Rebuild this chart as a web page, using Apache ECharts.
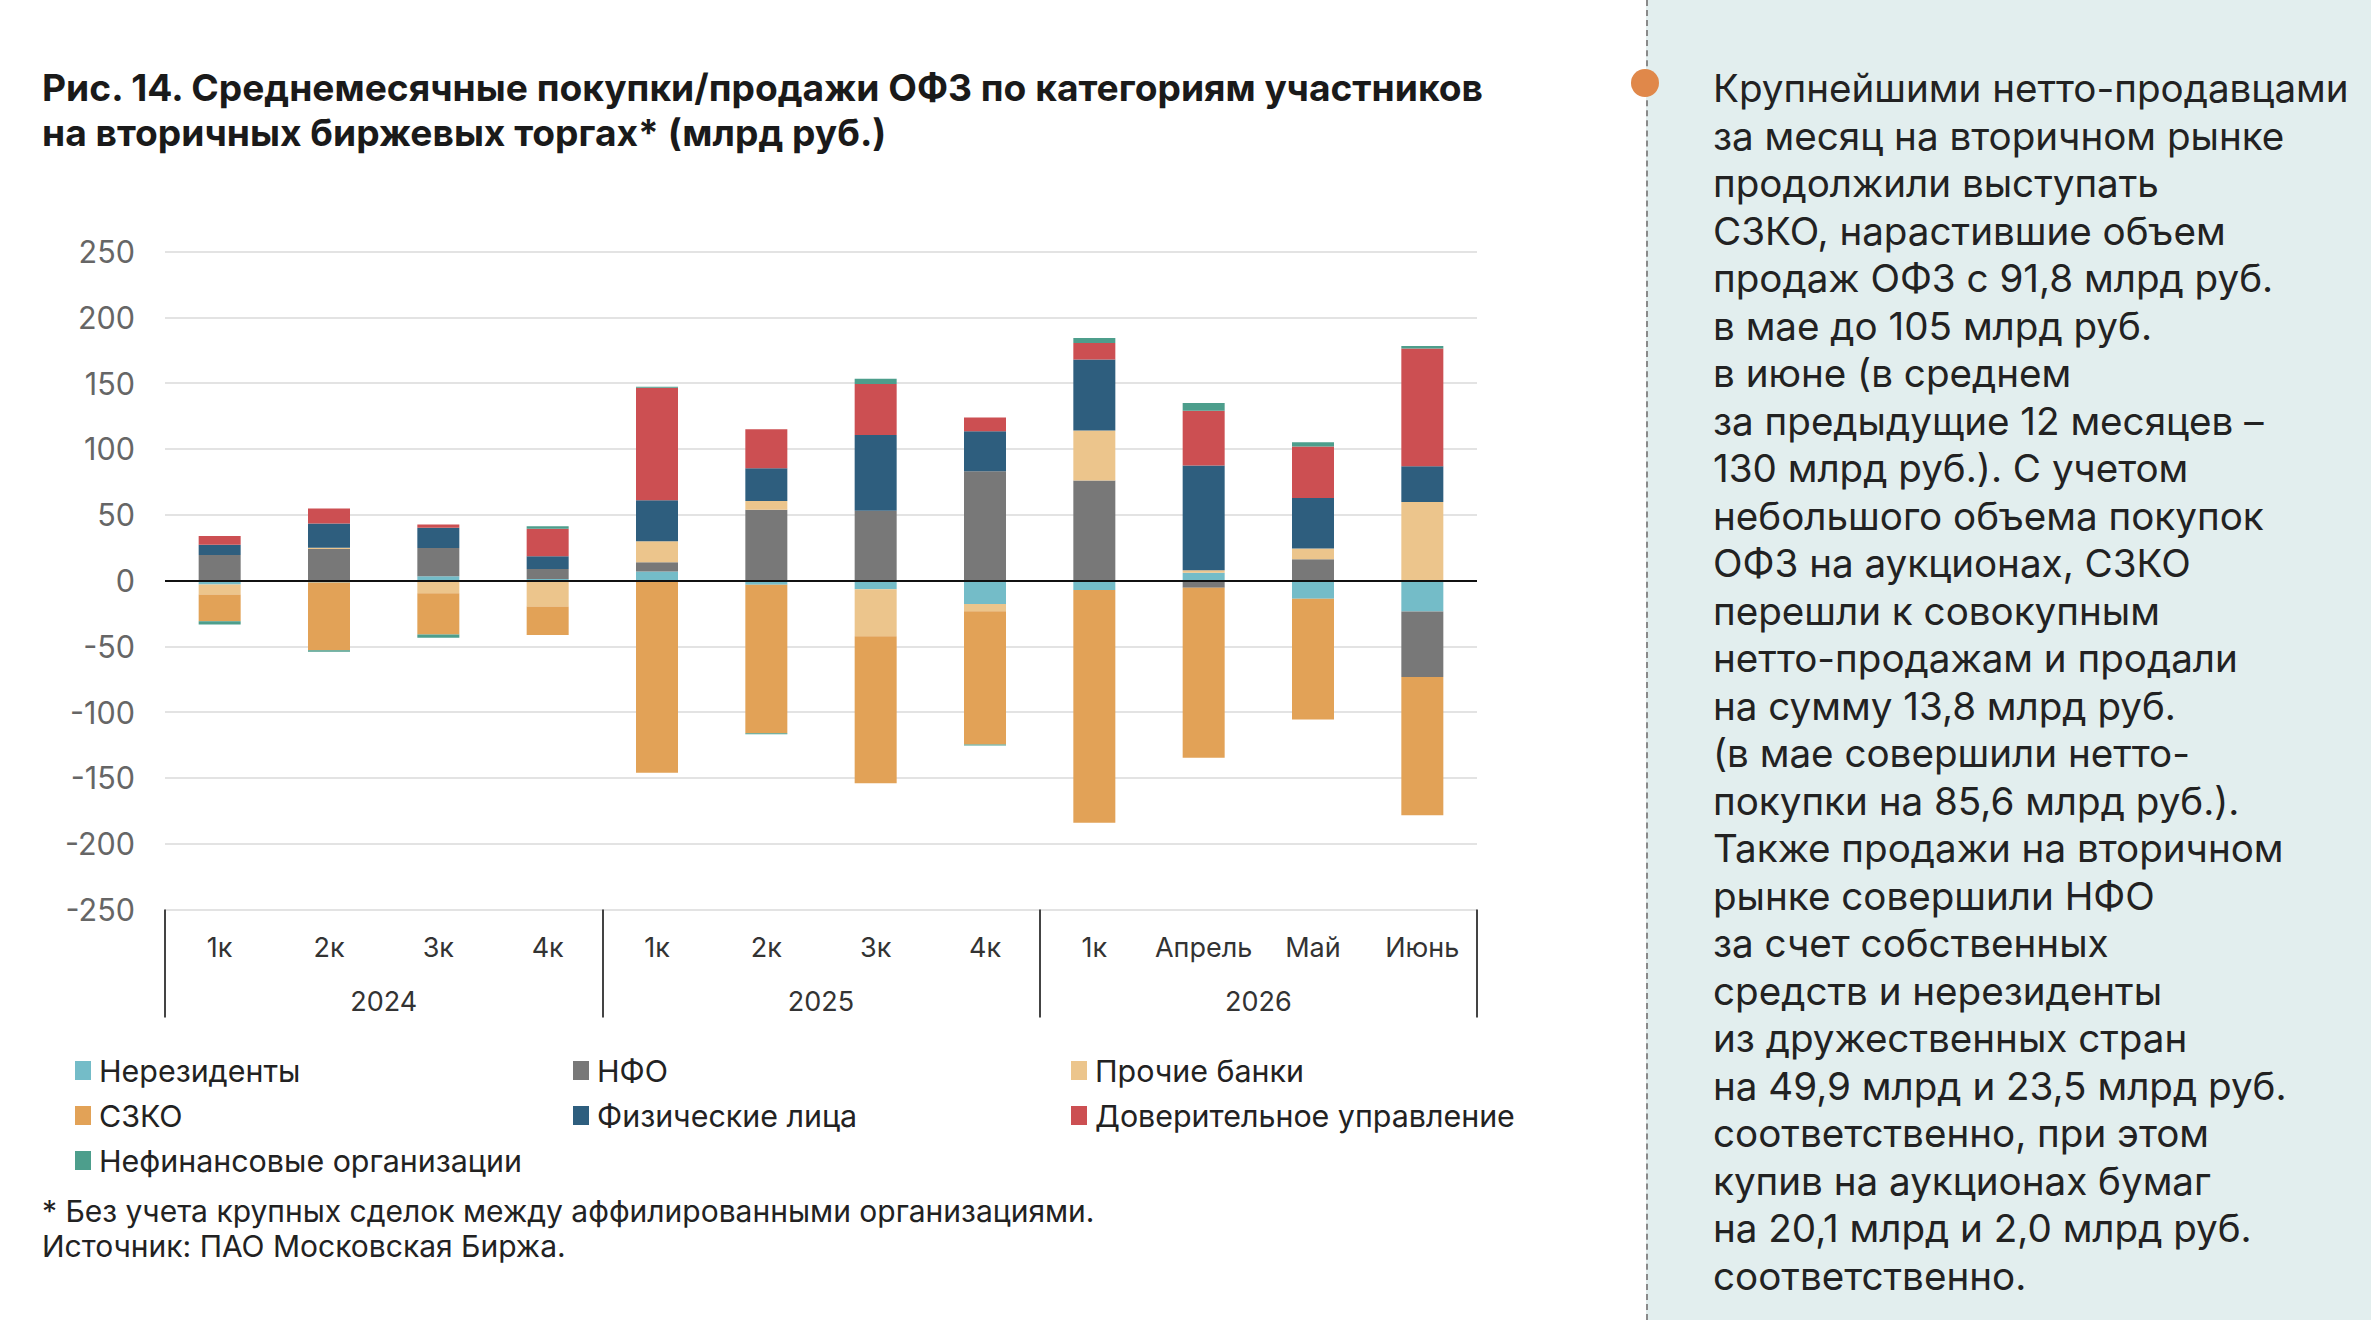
<!DOCTYPE html>
<html><head><meta charset="utf-8">
<script src="https://cdn.jsdelivr.net/npm/echarts@6/dist/echarts.min.js"></script>
<style>
html,body{margin:0;padding:0;background:#fff;}
#chart{position:absolute;left:0;top:0;width:2371px;height:1320px;}
#side{position:absolute;left:1646px;top:0;width:725px;height:1320px;background:#e2eeee;border-left:2px dashed #8a8a8a;box-sizing:border-box;}
#dot{position:absolute;left:1631px;top:69px;width:28px;height:28px;border-radius:50%;background:#e0884a;}
#sidetext{position:absolute;left:1713px;top:65px;font-family:Inter,sans-serif;font-size:38.6px;line-height:47.5px;color:#222;white-space:nowrap;}
</style></head>
<body>
<div id="chart"></div>
<div id="side"></div>
<div id="dot"></div>
<div id="sidetext">Крупнейшими нетто-продавцами<br>за месяц на вторичном рынке<br>продолжили выступать<br>СЗКО, нарастившие объем<br>продаж ОФЗ с 91,8 млрд руб.<br>в мае до 105 млрд руб.<br>в июне (в среднем<br>за предыдущие 12 месяцев –<br>130 млрд руб.). С учетом<br>небольшого объема покупок<br>ОФЗ на аукционах, СЗКО<br>перешли к совокупным<br>нетто-продажам и продали<br>на сумму 13,8 млрд руб.<br>(в мае совершили нетто-<br>покупки на 85,6 млрд руб.).<br>Также продажи на вторичном<br>рынке совершили НФО<br>за счет собственных<br>средств и нерезиденты<br>из дружественных стран<br>на 49,9 млрд и 23,5 млрд руб.<br>соответственно, при этом<br>купив на аукционах бумаг<br>на 20,1 млрд и 2,0 млрд руб.<br>соответственно.</div>
<script>
const categories = ['1к','2к','3к','4к','1к','2к','3к','4к','1к','Апрель','Май','Июнь'];
const years = ['2024','2025','2026'];

const nonResidents = [-3, -1.5, 3.3, 1.2, 6.9, -3.3, -6.6, -17.9, -7.3, 5.8, -13.9, -23.5];
const nfo          = [19.3, 24, 21.4, 7.6, 6.9, 53.8, 53, 83, 76, -5.6, 16.2, -49.9];
const otherBanks   = [-7.6, 0.8, -9.7, -19.8, 16, 6.6, -35.7, -5.4, 37.9, 2, 8.1, 59.6];
const szko         = [-20.4, -51.5, -31.3, -21.6, -146, -112.8, -111.7, -101.3, -176.8, -129, -91.8, -105];
const individuals  = [7.9, 18.5, 15.3, 9.7, 31.2, 24.9, 57.6, 30.5, 54, 79.5, 38.4, 27.3];
const trust        = [6.6, 11.5, 2.5, 20.9, 85.5, 29.7, 38.8, 10.4, 12.6, 41.7, 39.1, 89.4];
const nonFinancial = [-2.5, -1.2, -2.5, 1.8, 0.8, -0.8, 4, -0.8, 3.8, 5.8, 3.3, 1.8];

const seriesNames = ['Нерезиденты','НФО','Прочие банки','СЗКО','Физические лица','Доверительное управление','Нефинансовые организации'];
const seriesData = [nonResidents, nfo, otherBanks, szko, individuals, trust, nonFinancial];
const seriesColors = ['#74bcc8','#787878','#ecc58c','#e2a257','#2e5e7e','#cc4f52','#4d9e8c'];

const FONT = 'Inter';

const series = seriesNames.map((name, i) => {
  const s = {
    name: name, type: 'bar', stack: 'total', barWidth: 42,
    data: seriesData[i],
    itemStyle: { color: seriesColors[i] },
    emphasis: { disabled: true },
    xAxisIndex: 0
  };
  if (i === 0) {
    s.markLine = {
      silent: true, symbol: 'none', animation: false,
      label: { show: false },
      lineStyle: { color: '#111', type: 'solid', width: 2 },
      data: [{ yAxis: 0 }],
      z: 10
    };
  }
  return s;
});

const legendBase = {
  orient: 'vertical', icon: 'rect', itemWidth: 16, itemHeight: 19, itemGap: 0, padding: 0,
  textStyle: { fontFamily: FONT, fontSize: 30.4, color: '#222', lineHeight: 45, padding: [0,0,0,3] },
  top: 1048
};

const chart = echarts.init(document.getElementById('chart'), null, { renderer: 'svg' });
chart.setOption({
  animation: false,
  backgroundColor: '#ffffff',
  title: {
    text: 'Рис. 14. Среднемесячные покупки/продажи ОФЗ по категориям участников\nна вторичных биржевых торгах* (млрд руб.)',
    left: 42, top: 65, padding: 0,
    textStyle: { fontFamily: FONT, fontSize: 37.2, fontWeight: 700, lineHeight: 45, color: '#1a1a1a' }
  },
  grid: { left: 165, right: 894, top: 251.5, bottom: 410.5, containLabel: false },
  legend: [
    Object.assign({}, legendBase, { left: 75, data: ['Нерезиденты','СЗКО','Нефинансовые организации'] }),
    Object.assign({}, legendBase, { left: 573, data: ['НФО','Физические лица'] }),
    Object.assign({}, legendBase, { left: 1071, data: ['Прочие банки','Доверительное управление'] })
  ],
  xAxis: [
    {
      type: 'category', data: categories, position: 'bottom', offset: 0,
      axisLine: { show: false }, axisTick: { show: false },
      axisLabel: { interval: 0, margin: 24, fontFamily: FONT, fontSize: 27, color: '#333' }
    },
    {
      type: 'category', data: years, position: 'bottom', offset: 0,
      axisLine: { show: false },
      axisTick: { show: true, length: 108, interval: 0, lineStyle: { color: '#444', width: 2 } },
      axisLabel: { interval: 0, margin: 78, fontFamily: FONT, fontSize: 27, color: '#333' }
    }
  ],
  yAxis: {
    type: 'value', min: -250, max: 250, interval: 50,
    axisLine: { show: false }, axisTick: { show: false },
    axisLabel: { margin: 30, fontFamily: FONT, fontSize: 30.5, color: '#666' },
    splitLine: { lineStyle: { color: '#e3e3e3', width: 2 } }
  },
  graphic: [
    { type: 'text', left: 42, top: 1196, style: { text: '* Без учета крупных сделок между аффилированными организациями.', fontFamily: FONT, fontSize: 30, fill: '#222' } },
    { type: 'text', left: 42, top: 1231, style: { text: 'Источник: ПАО Московская Биржа.', fontFamily: FONT, fontSize: 30, fill: '#222' } }
  ],
  series: series
});
</script>
</body></html>
